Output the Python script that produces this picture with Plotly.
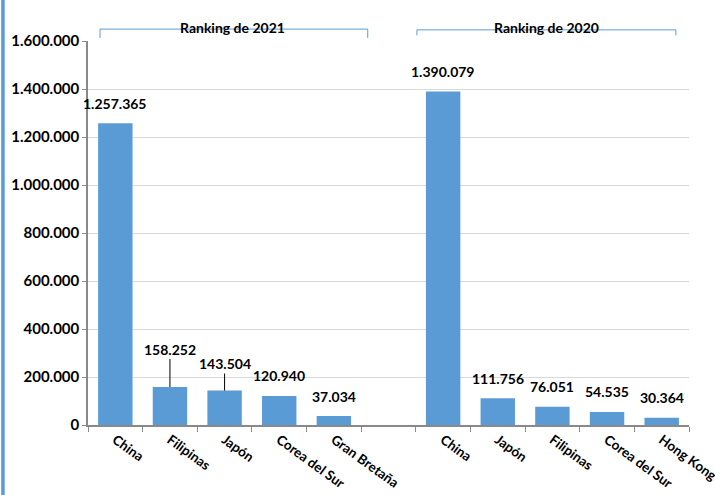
import plotly.graph_objects as go

cats_2021 = ["China", "Filipinas", "Japón", "Corea del Sur", "Gran Bretaña"]
vals_2021 = [1257365, 158252, 143504, 120940, 37034]
cats_2020 = ["China", "Japón", "Filipinas", "Corea del Sur", "Hong Kong"]
vals_2020 = [1390079, 111756, 76051, 54535, 30364]
group_titles = ["Ranking de 2021", "Ranking de 2020"]
y_ticks = [0, 200000, 400000, 600000, 800000, 1000000, 1200000, 1400000, 1600000]

labels = cats_2021 + [""] + cats_2020
values = vals_2021 + [None] + vals_2020
xs = list(range(len(labels)))

BLUE = "#5b9bd5"
FONT = "Lato"

def fmt(v):
    return f"{v:,}".replace(",", ".")

fig = go.Figure()
fig.add_trace(go.Bar(
    x=xs, y=values, marker=dict(color=BLUE, line=dict(width=0)),
    width=0.63, hoverinfo="skip",
))

# data labels
label_offsets = {1: 38, 2: 27}
ann = []
for x, v in zip(xs, values):
    if v is None:
        continue
    off = label_offsets.get(x)
    if off:
        ann.append(dict(x=x, y=v, xref="x", yref="y", text=fmt(v), showarrow=True,
                        arrowhead=0, arrowwidth=1, arrowcolor="black", ax=0, ay=-off,
                        font=dict(family=FONT, size=14, color="black", weight="bold")))
    else:
        ann.append(dict(x=x, y=v, xref="x", yref="y", text=fmt(v), showarrow=False,
                        yshift=20, font=dict(family=FONT, size=14, color="black", weight="bold")))

# group titles
ann.append(dict(x=2.15, y=1.0625, xref="x", yref="paper", text=group_titles[0], showarrow=False,
                font=dict(family=FONT, size=14, color="black", weight="bold")))
ann.append(dict(x=7.9, y=1.0625, xref="x", yref="paper", text=group_titles[1], showarrow=False,
                font=dict(family=FONT, size=14, color="black", weight="bold")))

shapes = [
    dict(type="path", xref="x", yref="paper",
         path="M -0.28,1.008 L -0.28,1.031 L 4.62,1.031 L 4.62,1.008",
         line=dict(color=BLUE, width=1)),
    dict(type="path", xref="x", yref="paper",
         path="M 5.52,1.015 L 5.52,1.029 L 10.26,1.029 L 10.26,1.015",
         line=dict(color=BLUE, width=1)),
    dict(type="line", xref="paper", yref="paper", x0=-0.1415, x1=-0.1415, y0=-0.182, y1=1.11,
         line=dict(color=BLUE, width=3.5)),
]

fig.update_layout(
    width=715, height=495,
    margin=dict(l=88, r=26, t=41, b=70, autoexpand=False),
    paper_bgcolor="white", plot_bgcolor="white",
    separators=",.",
    showlegend=False,
    annotations=ann, shapes=shapes,
    font=dict(family=FONT, size=12, color="black"),
)
fig.update_xaxes(
    range=[-0.5, 10.5], tickvals=xs, ticktext=labels, tickangle=36,
    ticks="", showline=True, linecolor="#898989", linewidth=1.5,
    showgrid=False, zeroline=False, automargin=False, ticklabeloverflow="allow",
    tickfont=dict(family=FONT, size=13.5, color="black", weight="bold"),
    minor=dict(tickvals=[i - 0.5 for i in range(12)], ticks="outside", ticklen=5,
               tickcolor="#898989", showgrid=False),
)
fig.update_yaxes(
    range=[0, 1600000], tickvals=y_ticks, tickformat=",d",
    showline=True, linecolor="#898989", linewidth=1.5,
    ticks="outside", ticklen=4, tickcolor="#898989", automargin=False,
    showgrid=True, gridcolor="#d9d9d9", gridwidth=1, zeroline=False,
    tickfont=dict(family=FONT, size=15, color="black", weight="bold"),
)

fig.write_html("out.html", config={"displayModeBar": False},
               post_script="document.body.style.margin='0';")
